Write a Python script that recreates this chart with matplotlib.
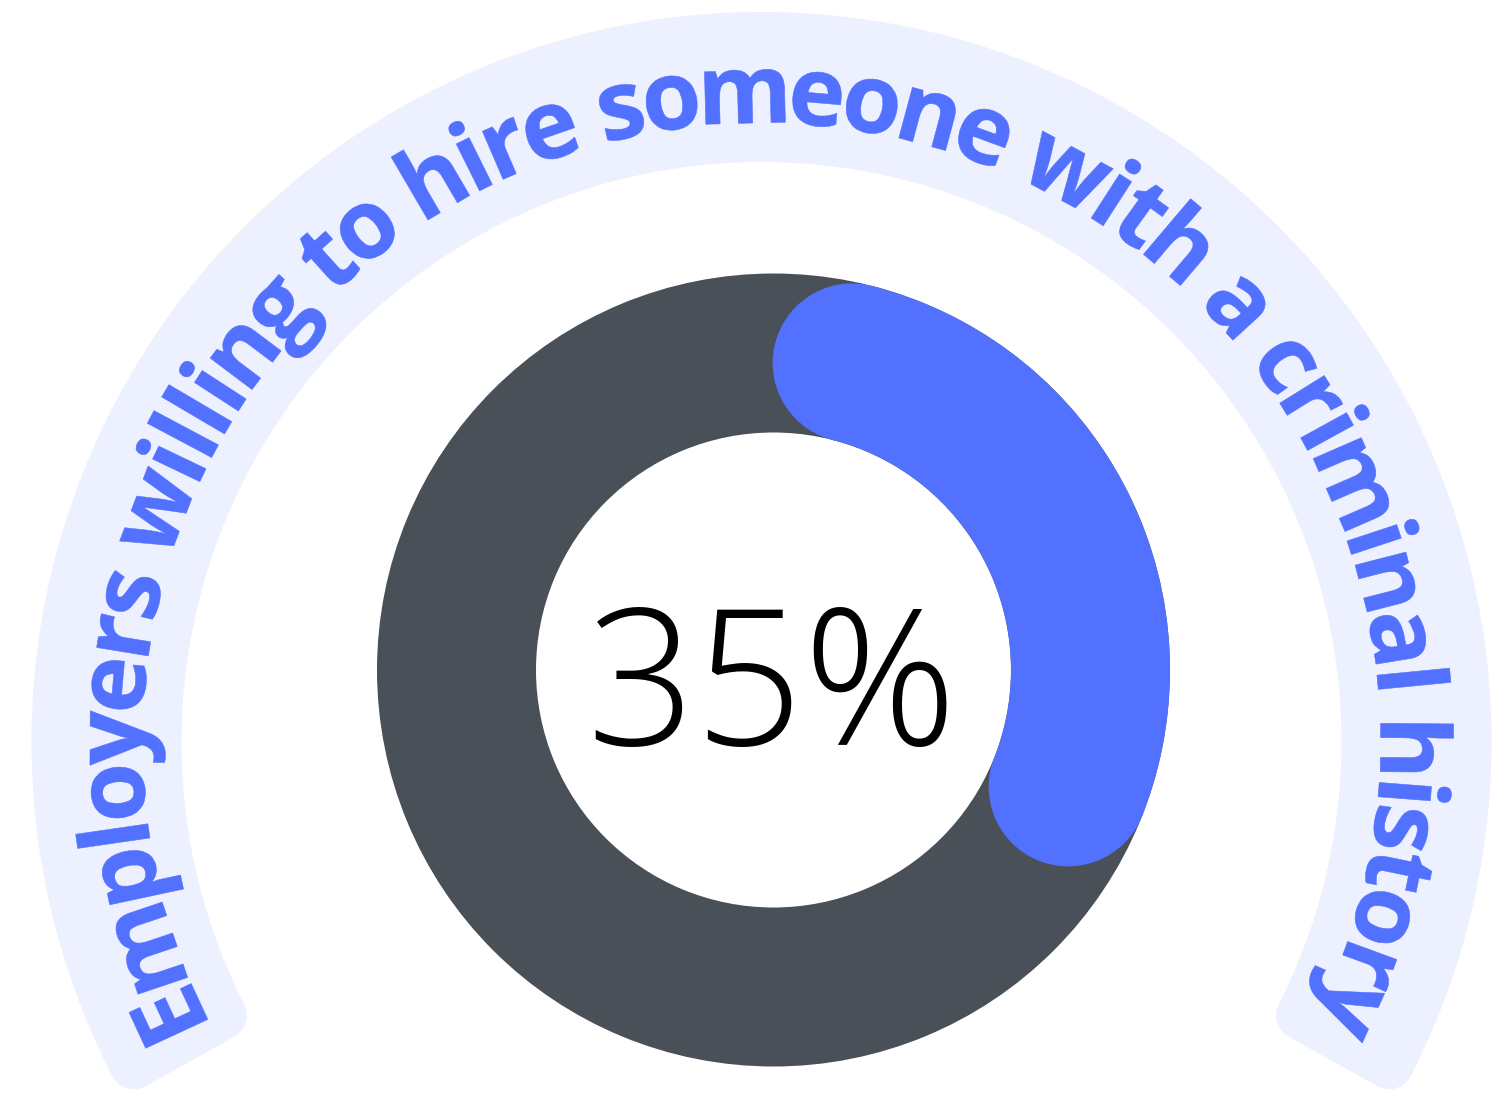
"""
Donut gauge with a curved caption band, drawn in pixel space.
"""

import numpy as np
import matplotlib

matplotlib.use("Agg")
import matplotlib.pyplot as plt
from matplotlib import font_manager as fm
from matplotlib.ft2font import LoadFlags
from matplotlib.patches import Circle, PathPatch, Polygon, Wedge
from matplotlib.textpath import TextPath
from matplotlib.transforms import Affine2D

W, H = 1495, 1093

# data
share_pct = 35
center_label = "35%"
caption = "Employers willing to hire someone with a criminal history"

BLUE = "#5271ff"
DARK = "#4a5058"
BAND = "#edf0ff"


def flip(y):
    # image rows -> data y (y up)
    return H - y


fig = plt.figure(figsize=(W / 100, H / 100), dpi=100)
ax = fig.add_axes([0, 0, 1, 1])
ax.set_xlim(0, W)
ax.set_ylim(0, H)
ax.set_aspect("equal")
ax.axis("off")

# ---- caption band ---------------------------------------------------------
bc = np.array([761.5, flip(742)])
r_in, r_out = 580, 730
a_right, a_left = -29.2, 209.2
rc = 24  # corner radius

ro, ri = r_out - rc, r_in + rc
do = np.degrees(np.arcsin(rc / ro))
di = np.degrees(np.arcsin(rc / ri))
t_out = np.radians(np.linspace(a_right + do, a_left - do, 400))
t_in = np.radians(np.linspace(a_left - di, a_right + di, 400))
pts = np.vstack([
    np.column_stack([bc[0] + ro * np.cos(t_out), bc[1] + ro * np.sin(t_out)]),
    np.column_stack([bc[0] + ri * np.cos(t_in), bc[1] + ri * np.sin(t_in)]),
])
ax.add_patch(Polygon(pts, closed=True, facecolor=BAND, edgecolor=BAND,
                     lw=2 * rc * 0.72, joinstyle="round", zorder=1))

# ---- curved caption -------------------------------------------------------
fp = fm.FontProperties(family="Open Sans", weight="bold")
em = 96
font = fm.get_font(fm.findfont(fp))
font.set_size(em, 72)
advances = [font.load_char(ord(c), flags=LoadFlags.NO_HINTING).linearHoriAdvance / 65536
            for c in caption]
total = sum(advances)
th_start, th_end = 207.2, -26.6
deg_per_px = (th_start - th_end) / total
r_base = 619

pos = 0.0
for ch, adv in zip(caption, advances):
    mid = pos + adv / 2
    pos += adv
    if ch == " ":
        continue
    th = th_start - mid * deg_per_px
    tp = TextPath((-adv / 2, 0), ch, size=em, prop=fp)
    x0 = bc[0] + r_base * np.cos(np.radians(th))
    y0 = bc[1] + r_base * np.sin(np.radians(th))
    tr = Affine2D().rotate_deg(th - 90).translate(x0, y0)
    ax.add_patch(PathPatch(tr.transform_path(tp), facecolor=BLUE,
                           edgecolor=BLUE, lw=0.4, zorder=3))

# ---- donut ----------------------------------------------------------------
dc = (773.5, flip(670))
R, ring_w = 396.5, 159
r_mid = R - ring_w / 2

ax.add_patch(Wedge(dc, R, 0, 360, width=ring_w, facecolor=DARK, lw=0, zorder=2))

span = 3.6 * share_pct
cap = np.degrees((ring_w / 2) / r_mid)
th1 = 90 - (span - cap)
th2 = 90 - cap
ax.add_patch(Wedge(dc, R, th1, th2, width=ring_w, facecolor=BLUE, lw=0, zorder=3))
for th in (th1, th2):
    ax.add_patch(Circle((dc[0] + r_mid * np.cos(np.radians(th)),
                         dc[1] + r_mid * np.sin(np.radians(th))),
                        ring_w / 2, facecolor=BLUE, lw=0, zorder=3))

ax.text(772, flip(745), center_label, fontsize=137, family="Open Sans",
        weight="light", ha="center", va="baseline", color="black", zorder=4)

fig.savefig("out.png", dpi=100)
plt.close(fig)
